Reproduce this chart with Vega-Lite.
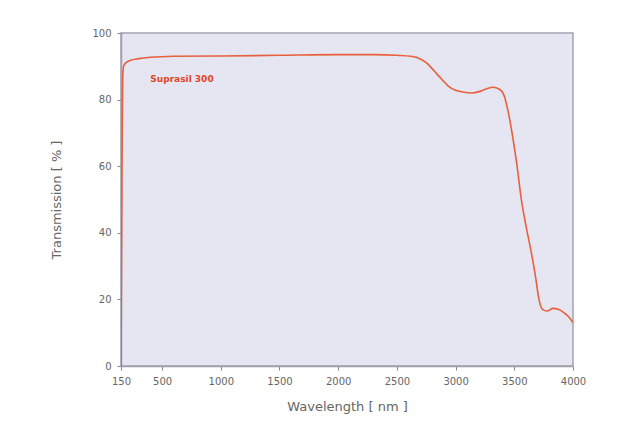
{
  "$schema": "https://vega.github.io/schema/vega-lite/v6.json",
  "width": 452,
  "height": 333,
  "autosize": {"type": "none"},
  "padding": {"left": 121, "top": 33, "right": 51, "bottom": 62},
  "background": "#ffffff",
  "config": {
    "font": "DejaVu Sans",
    "view": {"fill": "#e6e5f2", "stroke": "#a3a3b3", "strokeWidth": 1.5}
  },
  "layer": [
    {
      "data": {"values": [
        {"wl": 150, "t": 0}, {"wl": 156, "t": 40}, {"wl": 161, "t": 75}, {"wl": 165, "t": 87},
        {"wl": 172, "t": 90}, {"wl": 190, "t": 91}, {"wl": 230, "t": 91.8}, {"wl": 300, "t": 92.3},
        {"wl": 400, "t": 92.7}, {"wl": 600, "t": 93.0}, {"wl": 1000, "t": 93.1}, {"wl": 1500, "t": 93.3},
        {"wl": 2000, "t": 93.5}, {"wl": 2300, "t": 93.5}, {"wl": 2500, "t": 93.3}, {"wl": 2620, "t": 93.0},
        {"wl": 2700, "t": 92.2}, {"wl": 2760, "t": 90.8}, {"wl": 2820, "t": 88.5}, {"wl": 2880, "t": 86.2},
        {"wl": 2940, "t": 84.0}, {"wl": 3000, "t": 82.8}, {"wl": 3060, "t": 82.3}, {"wl": 3140, "t": 82.0},
        {"wl": 3200, "t": 82.4}, {"wl": 3260, "t": 83.2}, {"wl": 3320, "t": 83.7}, {"wl": 3370, "t": 83.2},
        {"wl": 3410, "t": 81.5}, {"wl": 3450, "t": 76}, {"wl": 3490, "t": 68}, {"wl": 3520, "t": 61},
        {"wl": 3560, "t": 50}, {"wl": 3600, "t": 42}, {"wl": 3640, "t": 35}, {"wl": 3680, "t": 27},
        {"wl": 3710, "t": 20}, {"wl": 3740, "t": 17}, {"wl": 3780, "t": 16.5}, {"wl": 3830, "t": 17.3},
        {"wl": 3880, "t": 17}, {"wl": 3930, "t": 15.8}, {"wl": 3970, "t": 14.5}, {"wl": 4000, "t": 13}
      ]},
      "mark": {"type": "line", "color": "#e8603c", "strokeWidth": 1.6, "interpolate": "monotone", "clip": true},
      "encoding": {
        "x": {
          "field": "wl", "type": "quantitative",
          "scale": {"domain": [150, 4000], "nice": false, "zero": false},
          "axis": {
            "title": "Wavelength [ nm ]",
            "values": [150, 500, 1000, 1500, 2000, 2500, 3000, 3500, 4000],
            "format": "d",
            "grid": false,
            "labelFlush": false,
            "labelOverlap": false,
            "domainColor": "#a0a0a8", "domainWidth": 1.5,
            "tickColor": "#888888", "tickSize": 4,
            "labelColor": "#666666", "labelFontSize": 10, "labelPadding": 6,
            "titleColor": "#666666", "titleFontSize": 13, "titleFontWeight": "normal", "titlePadding": 14
          }
        },
        "y": {
          "field": "t", "type": "quantitative",
          "scale": {"domain": [0, 100], "nice": false},
          "axis": {
            "title": "Transmission [ % ]",
            "values": [0, 20, 40, 60, 80, 100],
            "grid": false,
            "labelFlush": false,
            "domainColor": "#a0a0a8", "domainWidth": 1.5,
            "tickColor": "#888888", "tickSize": 4,
            "labelColor": "#666666", "labelFontSize": 10, "labelPadding": 6,
            "titleColor": "#666666", "titleFontSize": 13, "titleFontWeight": "normal", "titlePadding": 28
          }
        }
      }
    },
    {
      "data": {"values": [{"wl": 400, "t": 86.2, "label": "Suprasil 300"}]},
      "mark": {"type": "text", "align": "left", "baseline": "middle", "color": "#e2452a", "fontWeight": "bold", "fontSize": 9},
      "encoding": {
        "x": {"field": "wl", "type": "quantitative"},
        "y": {"field": "t", "type": "quantitative"},
        "text": {"field": "label"}
      }
    }
  ]
}
